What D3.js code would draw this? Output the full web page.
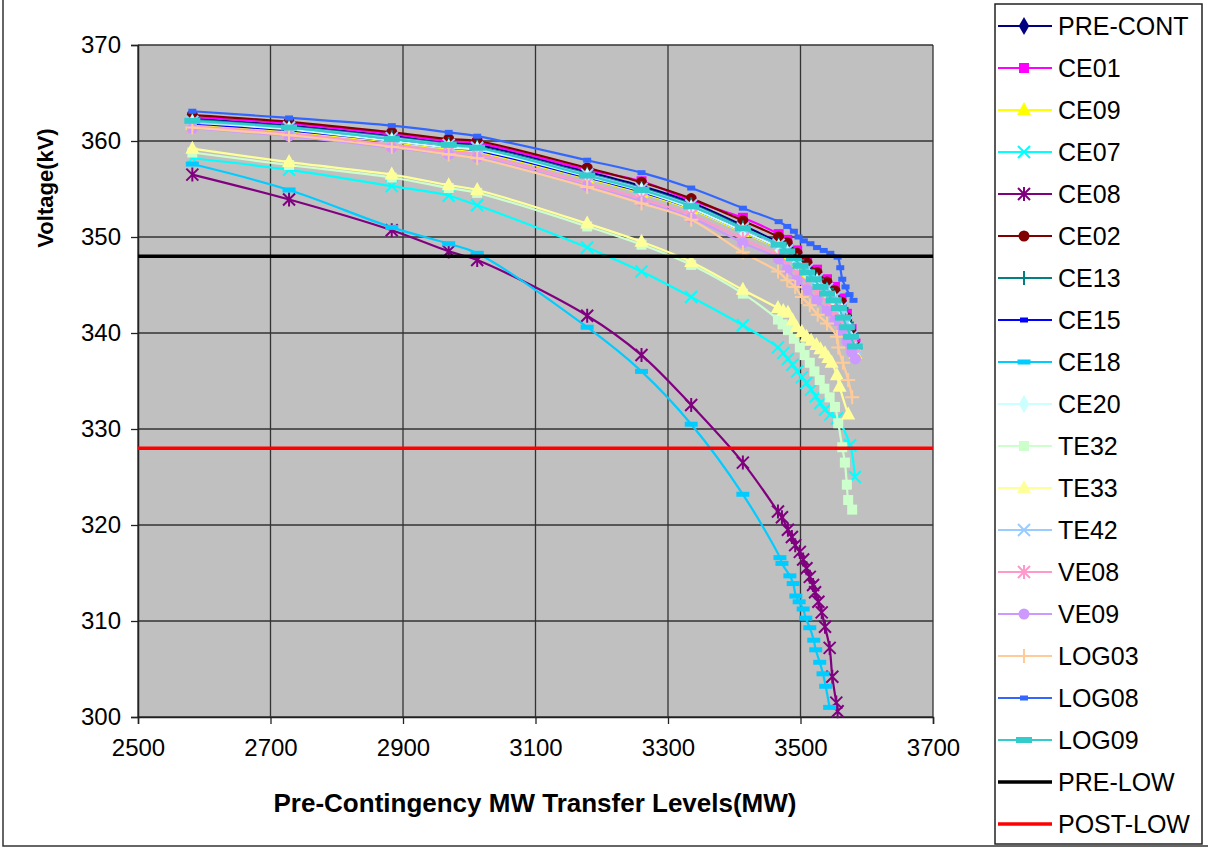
<!DOCTYPE html>
<html><head><meta charset="utf-8">
<script src="https://cdn.jsdelivr.net/npm/d3@7"></script>
<style>
html,body{margin:0;padding:0;background:#fff;}
svg{display:block;font-family:"Liberation Sans",Arial,sans-serif;}
</style></head>
<body><svg id="c" width="1208" height="848"></svg>
<script>
// ---------- DATA ----------
const xTicks = [2500, 2700, 2900, 3100, 3300, 3500, 3700];
const yTicks = [300, 310, 320, 330, 340, 350, 360, 370];
const xBase = [2582, 2728, 2883, 2969, 3012, 3178, 3260, 3335, 3413, 3467];
const xTailTop = [3480, 3495, 3510, 3525, 3540, 3552, 3562, 3570, 3577, 3583];

const preContY = [362.3, 361.6, 360.5, 359.8, 359.6, 356.8, 355.3, 353.6, 351.2, 349.4, 348.8, 347.8, 346.8, 345.8, 344.8, 343.9, 342.8, 341.3, 339.8, 338.6];
const ce01Y = [362.5, 361.8, 360.7, 360.0, 359.8, 357.0, 355.8, 353.8, 352.0, 350.3, 349.7, 348.6, 347.6, 346.6, 345.6, 344.8, 343.6, 342.0, 340.4, 338.9];
const ce09Y = [361.7, 361.0, 359.9, 359.2, 358.9, 356.1, 354.6, 352.9, 350.5, 348.8, 348.2, 347.2, 346.2, 345.2, 344.2, 343.3, 342.2, 340.7, 339.2, 337.8];
const ce02Y = [362.7, 362.0, 360.9, 360.2, 360.0, 357.2, 355.7, 354.0, 351.7, 350.0, 349.4, 348.3, 347.3, 346.3, 345.3, 344.4, 343.2, 341.6, 340.0, 338.6];
const ce13Y = [362.2, 361.5, 360.4, 359.7, 359.4, 356.6, 355.1, 353.4, 351.0, 349.2, 348.6, 347.6, 346.6, 345.6, 344.6, 343.7, 342.6, 341.1, 339.6, 338.4];
const ce15Y = [361.8, 361.1, 360.0, 359.3, 359.0, 356.2, 354.7, 353.0, 350.6, 348.9, 348.3, 347.3, 346.3, 345.3, 344.3, 343.4, 342.3, 340.8, 339.4, 338.3];
const ce20Y = [361.9, 361.2, 360.0, 359.3, 359.1, 356.3, 354.8, 353.0, 350.6, 348.9, 348.3, 347.3, 346.3, 345.3, 344.3, 343.4, 342.3, 340.8, 339.3, 338.2];
const te42Y = [362.0, 361.4, 360.3, 359.6, 359.3, 356.5, 355.0, 353.3, 350.9, 349.2, 348.6, 347.6, 346.6, 345.6, 344.6, 343.7, 342.6, 341.1, 339.6, 338.4];
const ve08Y = [361.5, 360.8, 359.6, 358.9, 358.6, 355.6, 354.0, 352.3, 349.8, 348.0, 347.2, 346.2, 345.2, 344.2, 343.2, 342.3, 341.3, 340.1, 338.8, 337.8];
const ve09Y = [361.3, 360.5, 359.3, 358.6, 358.3, 355.3, 353.7, 352.0, 349.4, 347.7, 346.6, 345.5, 344.5, 343.4, 342.3, 341.3, 340.2, 339.1, 338.0, 337.3];

const ce07X = [2582, 2728, 2883, 2969, 3012, 3178, 3260, 3335, 3413, 3466, 3474, 3481, 3488, 3495, 3502, 3509, 3516, 3523, 3530, 3537, 3545, 3555, 3575, 3582];
const ce07Y = [358.2, 357.0, 355.3, 354.3, 353.3, 348.9, 346.4, 343.75, 340.8, 338.5, 337.9, 337.3, 336.7, 336.0, 335.4, 334.8, 334.1, 333.4, 332.7, 332.0, 331.5, 331.1, 328.3, 325.0];
const ce08X = [2582, 2728, 2883, 2969, 3012, 3178, 3260, 3335, 3413, 3466, 3472, 3481, 3487, 3492, 3499, 3504, 3509, 3514, 3519, 3522, 3527, 3532, 3537, 3544, 3548, 3554, 3556];
const ce08Y = [356.5, 353.9, 350.7, 348.5, 347.6, 341.8, 337.7, 332.5, 326.5, 321.4, 320.8, 319.5, 318.75, 317.9, 317.2, 316.4, 315.5, 314.6, 313.75, 313.0, 312.0, 310.9, 309.4, 307.2, 304.2, 301.5, 300.6];
const ce18X = [2582, 2728, 2883, 2969, 3012, 3178, 3260, 3335, 3413, 3469, 3472, 3484, 3489, 3493, 3498, 3504, 3508, 3514, 3520, 3523, 3529, 3534, 3538, 3544];
const ce18Y = [357.6, 354.9, 351.0, 349.3, 348.3, 340.6, 336.0, 330.5, 323.2, 316.6, 316.0, 314.7, 313.9, 312.6, 312.0, 311.25, 310.3, 309.3, 308.0, 307.0, 305.7, 304.5, 303.2, 301.0];
const te32X = [2582, 2728, 2883, 2969, 3012, 3178, 3260, 3335, 3413, 3466, 3473, 3481, 3490, 3499, 3506, 3514, 3521, 3529, 3536, 3544, 3552, 3557, 3563, 3567, 3570, 3572, 3578];
const te32Y = [358.8, 357.5, 356.2, 355.1, 354.6, 351.1, 349.2, 347.1, 344.1, 341.4, 340.9, 340.3, 339.4, 338.5, 337.7, 336.9, 336.0, 335.1, 334.2, 333.3, 332.3, 330.6, 328.1, 326.5, 324.2, 322.6, 321.6];
const te33X = [2582, 2728, 2883, 2969, 3012, 3178, 3260, 3335, 3413, 3466, 3474, 3481, 3488, 3494, 3502, 3509, 3516, 3524, 3530, 3537, 3542, 3547, 3555, 3559, 3572];
const te33Y = [359.2, 357.8, 356.5, 355.4, 354.9, 351.4, 349.5, 347.4, 344.5, 342.6, 342.3, 342.1, 341.3, 340.6, 340.1, 339.6, 339.2, 338.75, 338.3, 337.9, 337.4, 336.9, 335.6, 334.4, 331.5];
const log03X = [2582, 2728, 2883, 2969, 3012, 3178, 3260, 3335, 3413, 3466, 3480, 3492, 3502, 3514, 3526, 3540, 3555, 3557, 3564, 3572, 3578];
const log03Y = [361.4, 360.6, 359.4, 358.6, 358.2, 355.2, 353.5, 351.8, 348.4, 346.4, 345.5, 344.8, 343.75, 342.9, 341.9, 341.0, 339.6, 338.5, 336.9, 335.1, 333.3];
const log08X = [2582, 2728, 2883, 2969, 3012, 3178, 3260, 3335, 3413, 3467, 3480, 3490, 3497, 3505, 3515, 3525, 3535, 3545, 3556, 3560, 3563, 3568, 3574, 3580];
const log08Y = [363.1, 362.4, 361.6, 360.9, 360.5, 358.0, 356.7, 355.1, 353.0, 351.6, 351.1, 350.6, 350.0, 349.6, 349.3, 348.9, 348.6, 348.3, 347.9, 346.8, 345.6, 344.8, 344.0, 343.4];
const log09X = [2582, 2728, 2883, 2969, 3012, 3178, 3260, 3335, 3413, 3467, 3480, 3490, 3500, 3510, 3520, 3530, 3540, 3550, 3558, 3564, 3570, 3576, 3582];
const log09Y = [362.1, 361.4, 360.2, 359.6, 359.3, 356.4, 354.9, 353.2, 350.9, 349.2, 348.5, 347.8, 347.0, 346.3, 345.6, 344.8, 344.1, 343.4, 342.6, 341.6, 340.6, 339.6, 338.6];

const limitX = [2500, 3700];
const preLowY = [348, 348];
const postLowY = [328, 328];

const names = ["PRE-CONT","CE01","CE09","CE07","CE08","CE02","CE13","CE15","CE18","CE20","TE32","TE33","TE42","VE08","VE09","LOG03","LOG08","LOG09"];
const colors = ["#000080","#FF00FF","#FFFF00","#00FFFF","#800080","#800000","#008080","#0000FF","#00CCFF","#CCFFFF","#CCFFCC","#FFFF99","#99CCFF","#FF99CC","#CC99FF","#FFCC99","#3366FF","#33CCCC"];
const markers = ["diamond","square","triangle","x","star","circle","plus","dashS","dashM","diamond","square","triangle","x","star","circle","plus","dashS","dashL"];

const xTop = xBase.concat(xTailTop);
const seriesX = [xTop, xTop, xTop, ce07X, ce08X, xTop, xTop, xTop, ce18X, xTop, te32X, te33X, xTop, xTop, xTop, log03X, log08X, log09X];
const seriesY = [preContY, ce01Y, ce09Y, ce07Y, ce08Y, ce02Y, ce13Y, ce15Y, ce18Y, ce20Y, te32Y, te33Y, te42Y, ve08Y, ve09Y, log03Y, log08Y, log09Y];

// ---------- CHART ----------
const svg = d3.select("#c");
const L = 138, T = 45, W = 795, H = 672;
const x = d3.scaleLinear().domain([2500, 3700]).range([L, L + W]);
const y = d3.scaleLinear().domain([300, 370]).range([T + H, T]);

svg.append("rect").attr("x", 3).attr("y", -2).attr("width", 1210).attr("height", 848)
  .attr("fill", "none").attr("stroke", "#333").attr("stroke-width", 1.5);

svg.append("rect").attr("x", L).attr("y", T).attr("width", W).attr("height", H).attr("fill", "#C0C0C0");

const g = svg.append("g");
g.selectAll(".vg").data(xTicks).join("line")
  .attr("x1", d => x(d)).attr("x2", d => x(d)).attr("y1", T).attr("y2", T + H)
  .attr("stroke", "#333").attr("stroke-width", 1.3);
g.selectAll(".hg").data(yTicks).join("line")
  .attr("x1", L).attr("x2", L + W).attr("y1", d => y(d)).attr("y2", d => y(d))
  .attr("stroke", "#333").attr("stroke-width", 1.3);

const xa = svg.append("g").attr("transform", `translate(0,${T + H})`)
  .call(d3.axisBottom(x).tickValues(xTicks).tickSize(7).tickPadding(15).tickFormat(d3.format("d")));
const ya = svg.append("g").attr("transform", `translate(${L},0)`)
  .call(d3.axisLeft(y).tickValues(yTicks).tickSize(7).tickPadding(10).tickFormat(d3.format("d")));
[xa, ya].forEach(a => {
  a.select(".domain").attr("stroke", "#222").attr("stroke-width", 1.5);
  a.selectAll(".tick line").attr("stroke", "#222").attr("stroke-width", 1.3);
  a.selectAll("text").attr("font-size", 24).attr("fill", "#000").attr("font-family", "Liberation Sans, Arial");
});

function drawMarker(sel, type, color) {
  const sw = 2;
  if (type === "diamond") {
    sel.append("path").attr("d", d3.symbol(d3.symbolDiamond, 95)()).attr("fill", color);
  } else if (type === "square") {
    sel.append("rect").attr("x", -5).attr("y", -5).attr("width", 10).attr("height", 10).attr("fill", color);
  } else if (type === "triangle") {
    sel.append("path").attr("d", "M0,-8L7,5L-7,5Z").attr("fill", color);
  } else if (type === "circle") {
    sel.append("circle").attr("r", 5.5).attr("fill", color);
  } else if (type === "x") {
    sel.append("path").attr("d", "M-6,-6L6,6M-6,6L6,-6").attr("stroke", color).attr("stroke-width", sw).attr("fill", "none");
  } else if (type === "star") {
    sel.append("path").attr("d", "M-6,-6L6,6M-6,6L6,-6M0,-7L0,7").attr("stroke", color).attr("stroke-width", sw).attr("fill", "none");
  } else if (type === "plus") {
    sel.append("path").attr("d", "M-7,0L7,0M0,-7L0,7").attr("stroke", color).attr("stroke-width", sw).attr("fill", "none");
  } else if (type === "dashS") {
    sel.append("rect").attr("x", -4).attr("y", -2.5).attr("width", 8).attr("height", 5).attr("fill", color);
  } else if (type === "dashM") {
    sel.append("rect").attr("x", -6.5).attr("y", -2.5).attr("width", 13).attr("height", 5).attr("fill", color);
  } else if (type === "dashL") {
    sel.append("rect").attr("x", -8).attr("y", -3).attr("width", 16).attr("height", 6).attr("fill", color);
  }
}

const plot = svg.append("g");
const line = d3.line().x(d => x(d[0])).y(d => y(d[1])).curve(d3.curveCatmullRom.alpha(0.5));

names.forEach((nm, i) => {
  const pts = seriesX[i].map((xv, j) => [xv, seriesY[i][j]]);
  const sg = plot.append("g");
  sg.append("path").datum(pts).attr("d", line).attr("fill", "none")
    .attr("stroke", colors[i]).attr("stroke-width", 2.2);
  pts.forEach(p => {
    const m = sg.append("g").attr("transform", `translate(${x(p[0])},${y(p[1])})`);
    drawMarker(m, markers[i], colors[i]);
  });
});

const lim = d3.line().x(d => x(d[0])).y(d => y(d[1]));
plot.append("path").datum(limitX.map((v, j) => [v, preLowY[j]])).attr("d", lim)
  .attr("stroke", "#000").attr("stroke-width", 3.5).attr("fill", "none");
plot.append("path").datum(limitX.map((v, j) => [v, postLowY[j]])).attr("d", lim)
  .attr("stroke", "#FF0000").attr("stroke-width", 3.5).attr("fill", "none");

svg.append("text").attr("x", 535).attr("y", 812).attr("text-anchor", "middle")
  .attr("font-size", 26).attr("font-weight", "bold").text("Pre-Contingency MW Transfer Levels(MW)");
svg.append("text").attr("transform", "translate(53,188) rotate(-90)").attr("text-anchor", "middle")
  .attr("font-size", 22).attr("font-weight", "bold").text("Voltage(kV)");

const lg = svg.append("g");
lg.append("rect").attr("x", 995).attr("y", 4).attr("width", 207).attr("height", 840)
  .attr("fill", "#fff").attr("stroke", "#222").attr("stroke-width", 1.5);
const legNames = names.concat(["PRE-LOW", "POST-LOW"]);
const legColors = colors.concat(["#000000", "#FF0000"]);
legNames.forEach((nm, i) => {
  const cy = 26 + i * 42;
  const isLim = i >= names.length;
  lg.append("line").attr("x1", 998).attr("x2", 1052).attr("y1", cy).attr("y2", cy)
    .attr("stroke", legColors[i]).attr("stroke-width", isLim ? 3.5 : 2.2);
  if (!isLim) {
    const m = lg.append("g").attr("transform", `translate(1024,${cy})`);
    drawMarker(m, markers[i], legColors[i]);
  }
  lg.append("text").attr("x", 1058).attr("y", cy + 9).attr("font-size", 25).attr("fill", "#000").text(nm);
});
</script>
</body></html>
